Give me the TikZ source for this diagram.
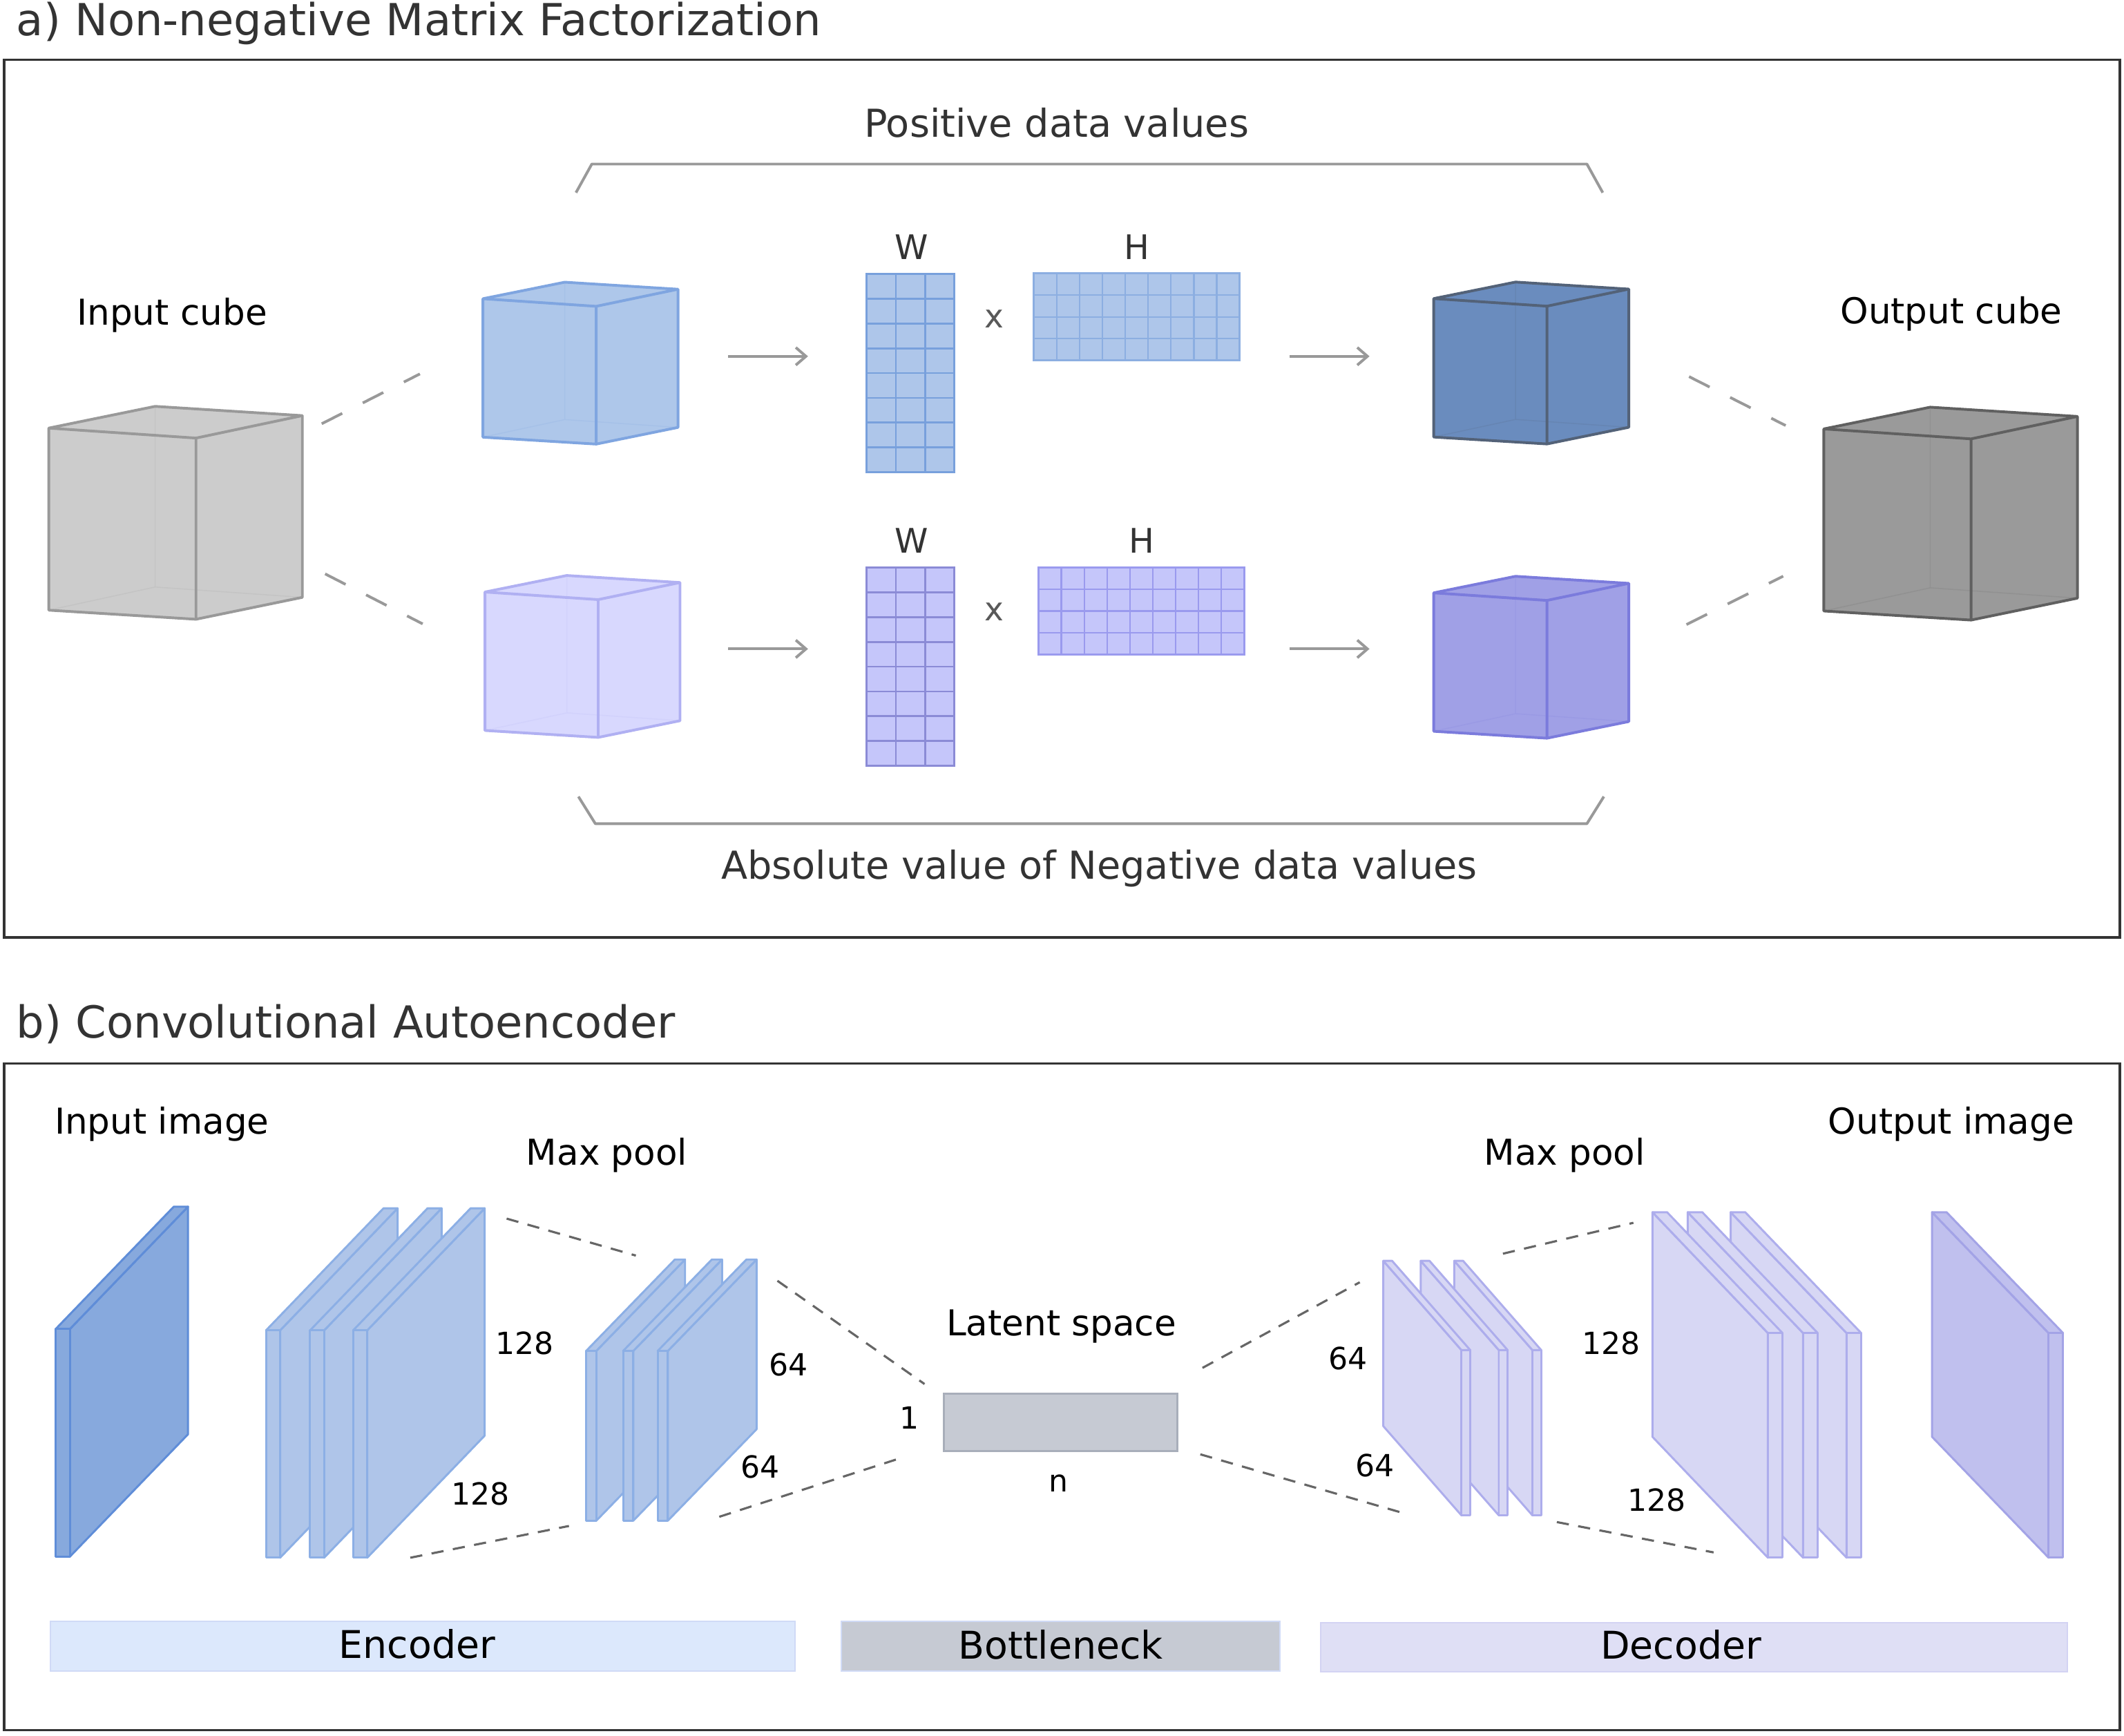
\documentclass[tikz,border=0pt]{standalone}
\usepackage{fontspec}
\setmainfont{DejaVu Sans}
\usetikzlibrary{arrows.meta}
\definecolor{txtdark}{HTML}{333333}
\definecolor{framec}{HTML}{333333}
\definecolor{arrowc}{HTML}{999999}
\definecolor{dashb}{HTML}{666666}
\definecolor{gfill}{HTML}{CCCCCC}
\definecolor{gedge}{HTML}{999999}
\definecolor{bfill}{HTML}{AEC7EA}
\definecolor{bedge}{HTML}{7FA5E0}
\definecolor{lfill}{HTML}{D8D8FE}
\definecolor{ledge}{HTML}{B0B0F2}
\definecolor{dbfill}{HTML}{6A8CBE}
\definecolor{dbedge}{HTML}{536278}
\definecolor{pfill}{HTML}{A0A0E6}
\definecolor{pedge}{HTML}{7B7BDC}
\definecolor{ogfill}{HTML}{9A9A9A}
\definecolor{ogedge}{HTML}{606060}
\definecolor{wbfill}{HTML}{AEC6EA}
\definecolor{wbline}{HTML}{78A0DC}
\definecolor{wpfill}{HTML}{C5C6FA}
\definecolor{wpline}{HTML}{9A9AEE}
\definecolor{inpfill}{HTML}{87A9DD}
\definecolor{inpedge}{HTML}{5F8DD8}
\definecolor{encfill}{HTML}{AFC5E9}
\definecolor{encedge}{HTML}{8CAFE5}
\definecolor{decfill}{HTML}{D7D7F4}
\definecolor{decedge}{HTML}{ADADEC}
\definecolor{outfill}{HTML}{C0C0EE}
\definecolor{outedge}{HTML}{A3A3E6}
\definecolor{latfill}{HTML}{C6CAD3}
\definecolor{latedge}{HTML}{A8AEBA}
\definecolor{encbar}{HTML}{DCE8FC}
\definecolor{encbaredge}{HTML}{D0DAF6}
\definecolor{decbar}{HTML}{DFDFF5}
\definecolor{decbaredge}{HTML}{D3D3F3}

\tikzset{
  ttl/.style={font=\fontsize{32.6}{38}\selectfont, text=txtdark, inner sep=0pt, anchor=base west},
  brk/.style={font=\fontsize{28.4}{34}\selectfont, text=txtdark, inner sep=0pt, anchor=base},
  lab/.style={font=\fontsize{26.3}{31}\selectfont, text=black, inner sep=0pt, anchor=base},
  mlab/.style={font=\fontsize{25}{30}\selectfont, text=txtdark, inner sep=0pt, anchor=base},
  xlab/.style={font=\fontsize{24}{29}\selectfont, text=black!65, inner sep=0pt, anchor=base},
  num/.style={font=\fontsize{22.5}{27}\selectfont, text=black, inner sep=0pt, anchor=base},
  barlab/.style={font=\fontsize{28.2}{34}\selectfont, text=black, inner sep=0pt, anchor=base},
  frame/.style={draw=framec, line width=1.7pt},
  garrow/.style={draw=arrowc, line width=2pt, -{Straight Barb[length=7.5pt,width=13pt,line width=2pt]}},
  adash/.style={draw=arrowc, line width=2pt, dash pattern=on 17pt off 17pt},
  bdash/.style={draw=dashb, line width=1.6pt, dash pattern=on 9pt off 7pt},
  bracket/.style={draw=arrowc, line width=2pt, line join=round},
}

% cube: #1 x, #2 y, #3 xscale, #4 yscale, #5 fill, #6 edge
\newcommand{\drawcube}[6]{%
\begin{scope}[shift={(#1,#2)},xscale=#3,yscale=#4]
  \fill[#5] (0,0) -- (60.4,-12.2) -- (144,-7) -- (144,95) -- (83.6,107.3) -- (0,102.2) -- cycle;
  \draw[#6,line width=0.8pt,opacity=0.15] (60.4,-12.2) -- (60.4,89.2) -- (0,102.2) (60.4,89.2) -- (144,95);
  \draw[#6,line width=2pt,line join=round] (0,0) -- (60.4,-12.2) -- (144,-7) -- (144,95) -- (83.6,107.3) -- (0,102.2) -- cycle (0,0) -- (83.6,5.6) -- (144,-7) (83.6,5.6) -- (83.6,107.3);
\end{scope}}

% W matrix: 3 cols x 8 rows
\newcommand{\Wmat}[4]{%
\begin{scope}[shift={(#1,#2)}]
  \fill[#3] (0,0) rectangle (64.5,146.2);
  \foreach \i in {1,2} {\draw[#4,line width=1.4pt] ({\i*21.5},0) -- ({\i*21.5},146.2);}
  \foreach \j in {1,...,7} {\draw[#4,line width=1.4pt] (0,{\j*18.275}) -- (64.5,{\j*18.275});}
  \draw[#4,line width=1.6pt] (0,0) rectangle (64.5,146.2);
\end{scope}}

% H matrix: 9 cols x 4 rows
\newcommand{\Hmat}[4]{%
\begin{scope}[shift={(#1,#2)}]
  \fill[#3] (0,0) rectangle (151.7,64.2);
  \foreach \i in {1,...,8} {\draw[#4,line width=1.2pt] ({\i*16.856},0) -- ({\i*16.856},64.2);}
  \foreach \j in {1,2,3} {\draw[#4,line width=1.2pt] (0,{\j*16.05}) -- (151.7,{\j*16.05});}
  \draw[#4,line width=1.6pt] (0,0) rectangle (151.7,64.2);
\end{scope}}

% encoder slab: #1 fill, #2 edge, #3 x, #4 y, #5 t, #6 h, #7 vx, #8 vy
\newcommand{\encslab}[8]{%
  \filldraw[fill=#1,draw=#2,line width=1.5pt,line join=round]
    ({#3+#5},{#4}) -- ({#3+#5+#7},{#4+#8}) -- ({#3+#5+#7},{#4+#8+#6}) -- ({#3+#5},{#4+#6}) -- cycle;
  \filldraw[fill=#1,draw=#2,line width=1.5pt,line join=round]
    (#3,#4) -- ({#3+#7},{#4+#8}) -- ({#3+#5+#7},{#4+#8}) -- ({#3+#5},{#4}) -- cycle;
  \filldraw[fill=#1,draw=#2,line width=1.5pt,line join=round]
    (#3,#4) rectangle ({#3+#5},{#4+#6});
}
% decoder slab
\newcommand{\decslab}[8]{%
  \filldraw[fill=#1,draw=#2,line width=1.5pt,line join=round]
    (#3,#4) -- ({#3+#7},{#4+#8}) -- ({#3+#7},{#4+#8+#6}) -- (#3,{#4+#6}) -- cycle;
  \filldraw[fill=#1,draw=#2,line width=1.5pt,line join=round]
    (#3,#4) -- ({#3+#7},{#4+#8}) -- ({#3+#5+#7},{#4+#8}) -- ({#3+#5},{#4}) -- cycle;
  \filldraw[fill=#1,draw=#2,line width=1.5pt,line join=round]
    (#3,#4) rectangle ({#3+#5},{#4+#6});
}

\begin{document}
\begin{tikzpicture}[x=1pt,y=-1pt]
\useasboundingbox (0,0) rectangle (1568,1281.4);
\fill[white] (0,0) rectangle (1568,1281.4);

% ================= Part a =================
\node[ttl] (titleA) at (12,26.5) {a) Non-negative Matrix Factorization};
\draw[frame] (3,44) rectangle (1565,692);

\node[brk] (pos) at (780,101.4) {Positive data values};
\node[brk] (neg) at (811.5,649) {Absolute value of Negative data values};
\coordinate (tb1) at (425.2,142.2); \coordinate (tb2) at (436.9,121.1);
\coordinate (tb3) at (1171.5,121.1); \coordinate (tb4) at (1183.2,142.2);
\draw[bracket] (tb1) -- (tb2) -- (tb3) -- (tb4);
\coordinate (bb1) at (427,588); \coordinate (bb2) at (439.5,608);
\coordinate (bb3) at (1171.5,608); \coordinate (bb4) at (1184,588);
\draw[bracket] (bb1) -- (bb2) -- (bb3) -- (bb4);

\node[lab] (incube) at (127,240) {Input cube};
\node[lab] (outcube) at (1440.5,239) {Output cube};

% cubes
\drawcube{36}{316}{1.3}{1.315}{gfill}{gedge}
\drawcube{356.5}{220.5}{1}{1}{bfill}{bedge}
\drawcube{358}{437}{1}{1}{lfill}{ledge}
\drawcube{1058.4}{220.4}{1}{1}{dbfill}{dbedge}
\drawcube{1058.4}{437.6}{1}{1}{pfill}{pedge}
\drawcube{1346.4}{316.6}{1.3}{1.315}{ogfill}{ogedge}

% dashed connectors
\coordinate (da1) at (237.5,312.8); \coordinate (da2) at (310,276);
\coordinate (da3) at (240,423.6); \coordinate (da4) at (312,460.5);
\coordinate (da5) at (1246.9,278); \coordinate (da6) at (1318.2,314.1);
\coordinate (da7) at (1245,461); \coordinate (da8) at (1316.4,425.3);
\draw[adash] (da1) -- (da2);
\draw[adash] (da3) -- (da4);
\draw[adash] (da5) -- (da6);
\draw[adash] (da7) -- (da8);

% arrows
\coordinate (a1s) at (537.6,263); \coordinate (a1e) at (596.5,263);
\coordinate (a2s) at (537.6,479); \coordinate (a2e) at (596.5,479);
\coordinate (a3s) at (952,263); \coordinate (a3e) at (1011,263);
\coordinate (a4s) at (952,479); \coordinate (a4e) at (1011,479);
\draw[garrow] (a1s) -- (a1e);
\draw[garrow] (a2s) -- (a2e);
\draw[garrow] (a3s) -- (a3e);
\draw[garrow] (a4s) -- (a4e);

% matrices
\Wmat{639.9}{202.3}{wbfill}{wbline}
\Hmat{763.3}{201.8}{wbfill}{wbline!85}
\Wmat{639.9}{419}{wpfill}{wpline!90!black}
\Hmat{766.7}{419}{wpfill}{wpline}
\node[mlab] (W1) at (672.9,191.3) {W};
\node[mlab] (H1) at (839.2,191.3) {H};
\node[xlab] (x1) at (733.9,242.2) {x};
\node[mlab] (W2) at (672.9,408) {W};
\node[mlab] (H2) at (842.6,408) {H};
\node[xlab] (x2) at (733.9,458.4) {x};

% ================= Part b =================
\node[ttl] (titleB) at (12,766) {b) Convolutional Autoencoder};
\draw[frame] (3,785) rectangle (1565,1277);

\node[lab] (inimg) at (119.5,837) {Input image};
\node[lab] (outimg) at (1440.5,837) {Output image};
\node[lab] (mp1) at (448,860) {Max pool};
\node[lab] (mp2) at (1155,860) {Max pool};
\node[lab] (lat) at (783.5,986) {Latent space};

% dashed connectors (behind slabs)
\coordinate (e1a) at (374,899.5); \coordinate (e1b) at (469.4,926.8);
\coordinate (e2a) at (302.9,1149.8); \coordinate (e2b) at (420,1126.4);
\coordinate (e3a) at (573.9,945.4); \coordinate (e3b) at (682.5,1021.6);
\coordinate (e4a) at (531,1119.6); \coordinate (e4b) at (667.2,1075.5);
\coordinate (d1a) at (887.7,1009.7); \coordinate (d1b) at (1003.8,946.5);
\coordinate (d2a) at (886.1,1073.5); \coordinate (d2b) at (1035.7,1116.8);
\coordinate (d3a) at (1109.5,925.4); \coordinate (d3b) at (1205.8,902.6);
\coordinate (d4a) at (1149.3,1123.5); \coordinate (d4b) at (1265,1145.9);
\draw[bdash] (e1a) -- (e1b);
\draw[bdash] (e2a) -- (e2b);
\draw[bdash] (e3a) -- (e3b);
\draw[bdash] (e4a) -- (e4b);
\draw[bdash] (d1a) -- (d1b);
\draw[bdash] (d2a) -- (d2b);
\draw[bdash] (d3a) -- (d3b);
\draw[bdash] (d4a) -- (d4b);

% input image plane
\encslab{inpfill}{inpedge}{41.1}{981}{10.5}{168}{87.2}{-90.3}
% encoder block 128
\encslab{encfill}{encedge}{196.4}{982}{10.4}{167.8}{86.7}{-90.1}
\encslab{encfill}{encedge}{228.9}{982}{10.4}{167.8}{86.7}{-90.1}
\encslab{encfill}{encedge}{260.7}{982}{10.4}{167.8}{86.7}{-90.1}
% encoder max pool 64
\encslab{encfill}{encedge}{432.7}{997.2}{7.5}{125.3}{65.5}{-67.5}
\encslab{encfill}{encedge}{460.0}{997.2}{7.5}{125.3}{65.5}{-67.5}
\encslab{encfill}{encedge}{485.5}{997.2}{7.5}{125.3}{65.5}{-67.5}

% latent
\node[draw=latedge, fill=latfill, line width=1.5pt, minimum width=172.3pt, minimum height=42.5pt, inner sep=0pt, anchor=north west] (latbox) at (695.9,1027.9) {};
\node[num] (one) at (671.5,1055) {1};
\node[num] (nn) at (781.4,1101) {n};

% decoder max pool 64
\decslab{decfill}{decedge}{1131.3}{996.6}{6.5}{122}{-57.7}{-65.9}
\decslab{decfill}{decedge}{1106.5}{996.6}{6.5}{122}{-57.7}{-65.9}
\decslab{decfill}{decedge}{1078.9}{996.6}{6.5}{122}{-57.7}{-65.9}
% decoder block 128
\decslab{decfill}{decedge}{1363.2}{984}{10.8}{165.8}{-85.6}{-89.2}
\decslab{decfill}{decedge}{1331.1}{984}{10.8}{165.8}{-85.2}{-89.2}
\decslab{decfill}{decedge}{1305.1}{984}{10.8}{165.8}{-85.2}{-89.2}
% output image plane
\decslab{outfill}{outedge}{1512.3}{984}{10.7}{165.8}{-86}{-89.2}

% size labels
\node[num] (n128a) at (387.1,999.6) {128};
\node[num] (n128b) at (354.6,1111) {128};
\node[num] (n64a) at (582,1015.5) {64};
\node[num] (n64b) at (561,1091) {64};
\node[num] (n64c) at (995,1011) {64};
\node[num] (n64d) at (1015,1090) {64};
\node[num] (n128c) at (1189.4,999.6) {128};
\node[num] (n128d) at (1223,1115.6) {128};

% bottom bars
\filldraw[fill=encbar, draw=encbaredge, line width=1pt] (37,1196.7) rectangle (587,1233.3);
\filldraw[fill=latfill, draw=encbaredge, line width=1pt] (621,1196.7) rectangle (945,1233.3);
\filldraw[fill=decbar, draw=decbaredge, line width=1pt] (975,1197.6) rectangle (1526,1233.8);
\node[barlab] (enc) at (308,1224) {Encoder};
\node[barlab] (bot) at (783,1224.5) {Bottleneck};
\node[barlab] (dec) at (1241,1224.5) {Decoder};
\end{tikzpicture}
\end{document}
